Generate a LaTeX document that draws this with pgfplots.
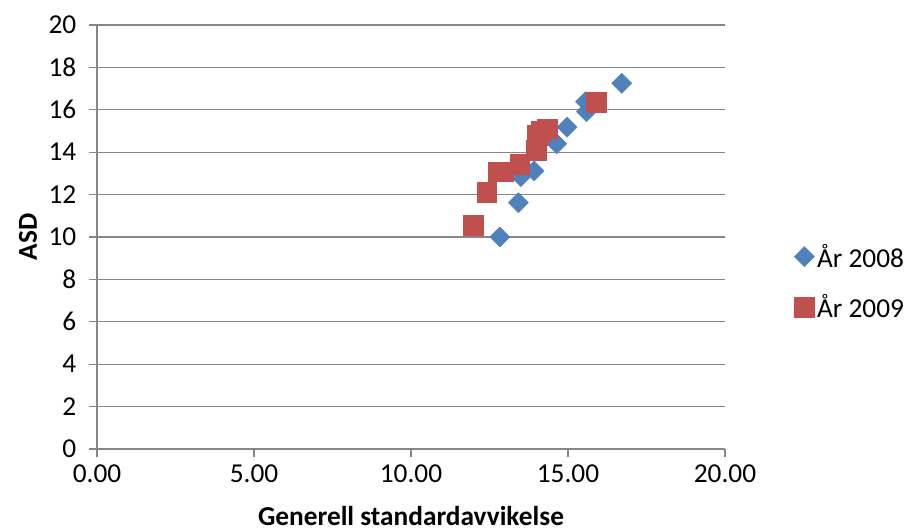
\documentclass[border=0pt]{standalone}
\usepackage{pgfplots}
\pgfplotsset{compat=1.18}
\usepackage{fontspec}
\setmainfont{Carlito}
\definecolor{exblue}{HTML}{4F81BD}
\definecolor{exred}{HTML}{C0504D}
\definecolor{gridgray}{HTML}{868686}
\begin{document}
\begin{tikzpicture}
\useasboundingbox (-72.75pt,-61.5pt) rectangle (606pt,336.75pt);
\begin{axis}[
  at={(0,0)}, anchor=south west,
  scale only axis,
  width=471pt, height=318pt,
  xmin=0, xmax=20, ymin=0, ymax=20,
  xtick={0,5,10,15,20},
  ytick={0,2,...,20},
  xticklabel style={/pgf/number format/fixed, /pgf/number format/fixed zerofill, /pgf/number format/precision=2, yshift=-2pt},
  /pgf/number format/assume math mode=true,
  tick label style={font=\fontsize{20.5}{24}\selectfont},
  label style={font=\fontsize{20.5}{24}\selectfont\bfseries},
  xlabel={Generell standardavvikelse},
  ylabel={ASD},
  xlabel style={at={(axis description cs:0.5,-0.158)}, anchor=center},
  ylabel style={at={(axis description cs:-0.11,0.5)}, anchor=center},
  ymajorgrids,
  major grid style={gridgray, line width=0.9pt},
  axis line style={gridgray, line width=0.9pt},
  axis x line*=bottom,
  axis y line*=left,
  tick style={gridgray, line width=0.9pt},
  tick align=outside,
  major tick length=6pt,
  xtick pos=bottom, ytick pos=left,
  yticklabel style={xshift=-6pt},
  legend style={draw=none, at={(1.11,0.394)}, anchor=west, font=\fontsize{20.5}{24}\selectfont,
    row sep=15pt, inner sep=0pt, legend cell align=left},
  legend image code/.code={\draw[#1] (0pt,0pt) plot coordinates {(0pt,0pt)};},
]
\addplot[only marks, mark=square*, mark size=5.3pt, mark options={rotate=45, fill=exblue, draw=exblue}] coordinates {
(12.83,10.0) (13.42,11.62) (13.50,12.85) (13.92,13.12) (14.64,14.40)
(14.97,15.18) (15.59,15.91) (15.56,16.38) (16.71,17.25)
};
\addlegendentry{År 2008}
\addplot[only marks, mark=square*, mark size=7.4pt, mark options={fill=exred, draw=exred}] coordinates {
(11.98,10.57) (12.41,12.12) (12.77,13.08) (12.95,13.08) (13.46,13.42)
(14.00,14.08) (14.02,14.81) (14.16,14.97) (14.35,15.10) (15.91,16.34)
};
\addlegendentry{År 2009}
\end{axis}
\end{tikzpicture}
\end{document}
